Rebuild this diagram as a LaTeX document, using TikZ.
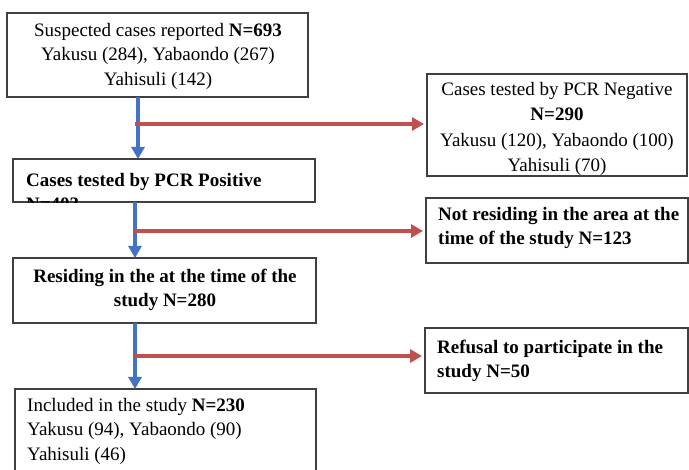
\documentclass[tikz,border=0pt]{standalone}
\usepackage{fontspec}
\setmainfont{Liberation Serif}
\usetikzlibrary{arrows.meta,calc}
\definecolor{flowblue}{RGB}{68,114,196}
\definecolor{flowred}{RGB}{192,80,77}
\begin{document}
\begin{tikzpicture}[x=1pt,y=-1pt,
  box/.style={draw=black!75, line width=1.1pt, fill=white, anchor=north west, inner sep=0pt, outer sep=0pt},
  txt/.style={inner sep=0pt, font=\fontsize{19}{24.5}\selectfont},
  down/.style={draw=flowblue, line width=4pt, -{Triangle[width=13pt,length=12pt]}},
  side/.style={draw=flowred, line width=4pt, -{Triangle[width=13pt,length=12pt]}, shorten >=3pt},
]
\useasboundingbox (0,0) rectangle (689,470);
% boxes
\node[box, minimum width=301pt, minimum height=84pt] (suspect) at (7,13) {};
\node[box, minimum width=302pt, minimum height=43pt] (positive) at (13,159) {};
\node[box, minimum width=260pt, minimum height=102pt] (negative) at (427,74) {};
\node[box, minimum width=303pt, minimum height=65pt] (residing) at (13,258) {};
\node[box, minimum width=262pt, minimum height=65pt] (notres) at (426,198) {};
\node[box, minimum width=263pt, minimum height=65pt] (refusal) at (425,328) {};
\node[box, minimum width=301pt, minimum height=100pt] (included) at (15,389) {};
% texts
\node[txt, align=center] (suspecttxt) at (158,56) {Suspected cases reported \textbf{N=693}\\Yakusu (284), Yabaondo (267)\\Yahisuli (142)};
\begin{scope}
  \clip ([shift={(0.6pt,-0.6pt)}]positive.south west) rectangle ([shift={(-0.6pt,0.6pt)}]positive.north east);
  \node[txt, align=left, anchor=west] (positivetxt) at (26,192) {\textbf{Cases tested by PCR Positive}\\\textbf{N=403}};
\end{scope}
\begin{scope}
  \clip ([shift={(0.6pt,-0.6pt)}]negative.south west) rectangle ([shift={(-0.6pt,0.6pt)}]negative.north east);
  \node[txt, align=center, font=\fontsize{19}{25.5}\selectfont] (negativetxt) at (557,129) {Cases tested by PCR Negative\\\textbf{N=290}\\Yakusu (120), Yabaondo (100)\\Yahisuli (70)};
\end{scope}
\node[txt, align=center] (residingtxt) at (165,290) {\textbf{Residing in the at the time of the}\\\textbf{study N=280}};
\node[txt, align=left, anchor=west] (notrestxt) at (438,228) {\textbf{Not residing in the area at the}\\\textbf{time of the study N=123}};
\node[txt, align=left, anchor=west] (refusaltxt) at (437,361) {\textbf{Refusal to participate in the}\\\textbf{study N=50}};
\node[txt, align=left, anchor=west] (includedtxt) at (27,431) {Included in the study \textbf{N=230}\\Yakusu (94), Yabaondo (90)\\Yahisuli (46)};
% connectors
\coordinate (a1) at (138,0);
\coordinate (a2) at (135,0);
\coordinate (a3) at (135,0);
\draw[down] (suspect.south -| a1) -- (positive.north -| a1);
\draw[down] (positive.south -| a2) -- (residing.north -| a2);
\draw[down] (residing.south -| a3) -- (included.north -| a3);
\coordinate (j1) at (135,124);
\coordinate (j2) at (133,231);
\coordinate (j3) at (134,356);
\draw[side] (j1) -- (j1 -| negative.west);
\draw[side] (j2) -- (j2 -| notres.west);
\draw[side] (j3) -- (j3 -| refusal.west);
\end{tikzpicture}
\end{document}
